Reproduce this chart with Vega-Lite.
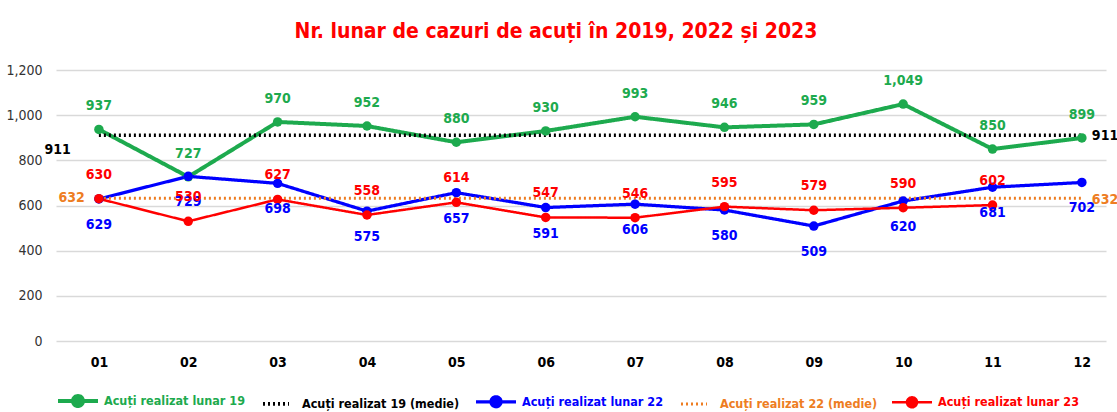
{
  "$schema": "https://vega.github.io/schema/vega-lite/v6.json",
  "width": 1050,
  "height": 271,
  "padding": {"left": 5, "top": 21, "right": 5, "bottom": 5},
  "background": "white",
  "config": {
    "font": "DejaVu Sans Condensed",
    "view": {"stroke": null}
  },
  "title": {
    "text": "Nr. lunar de cazuri de acuți în 2019, 2022 și 2023",
    "color": "#FF0000",
    "fontSize": 21,
    "fontWeight": "bold",
    "font": "DejaVu Sans Condensed",
    "offset": 21,
    "dx": -25
  },
  "data": {
    "values": [
      {"month": "01", "series": "Acuți realizat lunar 19", "value": 937},
      {"month": "02", "series": "Acuți realizat lunar 19", "value": 727},
      {"month": "03", "series": "Acuți realizat lunar 19", "value": 970},
      {"month": "04", "series": "Acuți realizat lunar 19", "value": 952},
      {"month": "05", "series": "Acuți realizat lunar 19", "value": 880},
      {"month": "06", "series": "Acuți realizat lunar 19", "value": 930},
      {"month": "07", "series": "Acuți realizat lunar 19", "value": 993},
      {"month": "08", "series": "Acuți realizat lunar 19", "value": 946},
      {"month": "09", "series": "Acuți realizat lunar 19", "value": 959},
      {"month": "10", "series": "Acuți realizat lunar 19", "value": 1049},
      {"month": "11", "series": "Acuți realizat lunar 19", "value": 850},
      {"month": "12", "series": "Acuți realizat lunar 19", "value": 899},
      {"month": "01", "series": "Acuți realizat 19 (medie)", "value": 911},
      {"month": "12", "series": "Acuți realizat 19 (medie)", "value": 911},
      {"month": "01", "series": "Acuți realizat lunar 22", "value": 629},
      {"month": "02", "series": "Acuți realizat lunar 22", "value": 729},
      {"month": "03", "series": "Acuți realizat lunar 22", "value": 698},
      {"month": "04", "series": "Acuți realizat lunar 22", "value": 575},
      {"month": "05", "series": "Acuți realizat lunar 22", "value": 657},
      {"month": "06", "series": "Acuți realizat lunar 22", "value": 591},
      {"month": "07", "series": "Acuți realizat lunar 22", "value": 606},
      {"month": "08", "series": "Acuți realizat lunar 22", "value": 580},
      {"month": "09", "series": "Acuți realizat lunar 22", "value": 509},
      {"month": "10", "series": "Acuți realizat lunar 22", "value": 620},
      {"month": "11", "series": "Acuți realizat lunar 22", "value": 681},
      {"month": "12", "series": "Acuți realizat lunar 22", "value": 702},
      {"month": "01", "series": "Acuți realizat 22 (medie)", "value": 632},
      {"month": "12", "series": "Acuți realizat 22 (medie)", "value": 632},
      {"month": "01", "series": "Acuți realizat lunar 23", "value": 630},
      {"month": "02", "series": "Acuți realizat lunar 23", "value": 530},
      {"month": "03", "series": "Acuți realizat lunar 23", "value": 627},
      {"month": "04", "series": "Acuți realizat lunar 23", "value": 558},
      {"month": "05", "series": "Acuți realizat lunar 23", "value": 614},
      {"month": "06", "series": "Acuți realizat lunar 23", "value": 547},
      {"month": "07", "series": "Acuți realizat lunar 23", "value": 546},
      {"month": "08", "series": "Acuți realizat lunar 23", "value": 595},
      {"month": "09", "series": "Acuți realizat lunar 23", "value": 579},
      {"month": "10", "series": "Acuți realizat lunar 23", "value": 590},
      {"month": "11", "series": "Acuți realizat lunar 23", "value": 602}
    ]
  },
  "encoding": {
    "x": {
      "field": "month",
      "type": "ordinal",
      "sort": null,
      "scale": {"type": "point", "padding": 0.375, "align": 0.64},
      "axis": {
        "title": null,
        "labelAngle": 0,
        "labelFontSize": 14,
        "labelFontWeight": "bold",
        "labelColor": "#000000",
        "labelPadding": 14,
        "domain": false,
        "ticks": false,
        "grid": false
      }
    },
    "y": {
      "field": "value",
      "type": "quantitative",
      "scale": {"domain": [0, 1200], "nice": false},
      "axis": {
        "title": null,
        "values": [0, 200, 400, 600, 800, 1000, 1200],
        "format": ",.0f",
        "labelFontSize": 14,
        "labelColor": "#333333",
        "labelPadding": 14,
        "domain": false,
        "ticks": false,
        "gridColor": "#d9d9d9",
        "gridWidth": 1.5
      }
    }
  },
  "layer": [
    {
      "mark": {"type": "line"},
      "encoding": {
        "color": {
          "field": "series",
          "type": "nominal",
          "scale": {
            "domain": ["Acuți realizat lunar 19", "Acuți realizat 19 (medie)", "Acuți realizat lunar 22", "Acuți realizat 22 (medie)", "Acuți realizat lunar 23"],
            "range": ["#1DAA4E", "#000000", "#0000FF", "#EE7D22", "#FF0000"]
          },
          "legend": {
            "orient": "bottom",
            "title": null,
            "direction": "horizontal",
            "columns": 5,
            "offset": 10,
            "labelFontSize": 12.5,
            "labelFontWeight": "bold",
            "labelLimit": 300,
            "labelOffset": 4,
            "symbolSize": 1600,
            "symbolStrokeWidth": 4,
            "columnPadding": 9,
            "encode": {
              "symbols": {
                "update": {
                  "shape": {"signal": "indexof(datum.value, 'medie') >= 0 ? 'M-0.65,0L0.65,0' : 'M-1,0L-0.25,0M0.25,0L1,0M0.25,0A0.25,0.25,0,1,1,-0.25,0A0.25,0.25,0,1,1,0.25,0Z'"},
                  "fill": {"signal": "indexof(datum.value, 'medie') >= 0 ? 'transparent' : scale('color', datum.value)"},
                  "strokeWidth": {"signal": "indexof(datum.value, 'medie') >= 0 ? 2 : 4"}
                }
              },
              "labels": {
                "update": {
                  "fill": {"signal": "scale('color', datum.value)"}
                }
              }
            }
          }
        },
        "strokeDash": {
          "field": "series",
          "type": "nominal",
          "scale": {
            "domain": ["Acuți realizat lunar 19", "Acuți realizat 19 (medie)", "Acuți realizat lunar 22", "Acuți realizat 22 (medie)", "Acuți realizat lunar 23"],
            "range": [[1, 0], [2, 3], [1, 0], [2, 3], [1, 0]]
          },
          "legend": null
        },
        "strokeWidth": {
          "field": "series",
          "type": "nominal",
          "scale": {
            "domain": ["Acuți realizat lunar 19", "Acuți realizat 19 (medie)", "Acuți realizat lunar 22", "Acuți realizat 22 (medie)", "Acuți realizat lunar 23"],
            "range": [4, 2.5, 4, 2.5, 4]
          },
          "legend": null
        }
      }
    },
    {
      "transform": [{"filter": "indexof(datum.series, 'medie') < 0"}],
      "mark": {"type": "point", "filled": true, "opacity": 1, "size": 90},
      "encoding": {
        "color": {"field": "series", "type": "nominal", "legend": null}
      }
    },
    {
      "transform": [{"filter": "datum.series == 'Acuți realizat lunar 19'"}],
      "mark": {"type": "text", "dy": -23, "fontSize": 14, "fontWeight": "bold", "color": "#1DAA4E"},
      "encoding": {"text": {"field": "value", "type": "quantitative", "format": ","}}
    },
    {
      "transform": [{"filter": "datum.series == 'Acuți realizat lunar 22'"}],
      "mark": {"type": "text", "dy": 26, "fontSize": 14, "fontWeight": "bold", "color": "#0000FF"},
      "encoding": {"text": {"field": "value", "type": "quantitative", "format": ","}}
    },
    {
      "transform": [{"filter": "datum.series == 'Acuți realizat lunar 23'"}],
      "mark": {"type": "text", "dy": -24, "fontSize": 14, "fontWeight": "bold", "color": "#FF0000"},
      "encoding": {"text": {"field": "value", "type": "quantitative", "format": ","}}
    },
    {
      "transform": [{"filter": "datum.series == 'Acuți realizat 19 (medie)' && datum.month == '01'"}],
      "mark": {"type": "text", "dx": -28, "dy": 15, "align": "right", "fontSize": 14, "fontWeight": "bold", "color": "#000000"},
      "encoding": {"text": {"field": "value", "type": "quantitative"}}
    },
    {
      "transform": [{"filter": "datum.series == 'Acuți realizat 19 (medie)' && datum.month == '12'"}],
      "mark": {"type": "text", "dx": 10, "dy": 1, "align": "left", "fontSize": 14, "fontWeight": "bold", "color": "#000000"},
      "encoding": {"text": {"field": "value", "type": "quantitative"}}
    },
    {
      "transform": [{"filter": "datum.series == 'Acuți realizat 22 (medie)' && datum.month == '01'"}],
      "mark": {"type": "text", "dx": -14, "dy": 0, "align": "right", "fontSize": 14, "fontWeight": "bold", "color": "#EE7D22"},
      "encoding": {"text": {"field": "value", "type": "quantitative"}}
    },
    {
      "transform": [{"filter": "datum.series == 'Acuți realizat 22 (medie)' && datum.month == '12'"}],
      "mark": {"type": "text", "dx": 10, "dy": 2, "align": "left", "fontSize": 14, "fontWeight": "bold", "color": "#EE7D22"},
      "encoding": {"text": {"field": "value", "type": "quantitative"}}
    }
  ]
}
